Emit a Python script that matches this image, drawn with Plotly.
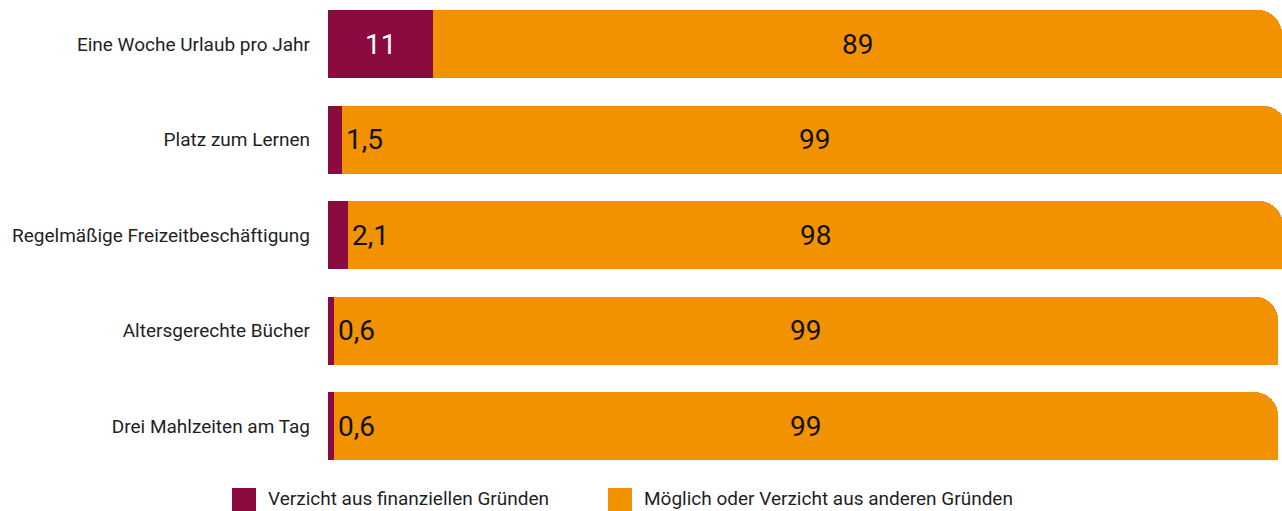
import plotly.graph_objects as go

# Anteil der Kinder (in %), die auf etwas verzichten
categories = [
    "Eine Woche Urlaub pro Jahr",
    "Platz zum Lernen",
    "Regelmäßige Freizeitbeschäftigung",
    "Altersgerechte Bücher",
    "Drei Mahlzeiten am Tag",
]
verzicht_finanziell = [11, 1.5, 2.1, 0.6, 0.6]
moeglich_anders = [89, 99, 98, 99, 99]
series_names = ["Verzicht aus finanziellen Gründen", "Möglich oder Verzicht aus anderen Gründen"]

RED = "#8A0B3F"
ORANGE = "#F29200"
TEXT = "#1f1f1f"
FONT = "Roboto"
VALUE_SIZE = 28

W, H = 1282, 511
M_L, M_R, M_T, M_B = 328, 0, 0, 37
PLOT_W = W - M_L - M_R
PLOT_H = H - M_T - M_B
ROW_PX = 95.5
BAR_W = 68 / ROW_PX


def fmt(v):
    return f"{v:g}".replace(".", ",")


def paper_x(px):
    return (px - M_L) / PLOT_W


def paper_y(py):
    return 1 - (py - M_T) / PLOT_H


fig = go.Figure()

# stacked bars; the end of each stack gets rounded corners
fig.add_trace(go.Bar(
    y=categories, x=verzicht_finanziell,
    orientation="h", width=BAR_W, marker=dict(color=RED, line=dict(width=0)),
    name=series_names[0], showlegend=False, hoverinfo="skip",
))
fig.add_trace(go.Bar(
    y=categories, x=moeglich_anders,
    orientation="h", width=BAR_W, marker=dict(color=ORANGE, line=dict(width=0)),
    name=series_names[1], showlegend=False, hoverinfo="skip",
))

# lower half of the orange segments on an overlaid axis keeps the bottom corner square
fig.add_trace(go.Bar(
    y=categories, x=moeglich_anders, base=verzicht_finanziell,
    orientation="h", width=BAR_W / 2, offset=0,
    marker=dict(color=ORANGE, line=dict(width=0), cornerradius=0),
    yaxis="y2", showlegend=False, hoverinfo="skip",
))

# value labels
for cat, r, o in zip(categories, verzicht_finanziell, moeglich_anders):
    if r >= 5:
        fig.add_annotation(x=r / 2, y=cat, text=fmt(r), showarrow=False,
                           xanchor="center", yanchor="middle",
                           font=dict(family=FONT, size=VALUE_SIZE, color="white"))
    else:
        fig.add_annotation(x=r, y=cat, text=fmt(r), showarrow=False,
                           xanchor="left", yanchor="middle", xshift=2,
                           font=dict(family=FONT, size=VALUE_SIZE, color="#111111"))
    fig.add_annotation(x=r + o / 2, y=cat, text=fmt(o), showarrow=False,
                       xanchor="center", yanchor="middle",
                       font=dict(family=FONT, size=VALUE_SIZE, color="#111111"))

# legend
legend_items = [(232, series_names[0], RED), (608, series_names[1], ORANGE)]
for x0, label, color in legend_items:
    fig.add_shape(type="rect", xref="paper", yref="paper",
                  x0=paper_x(x0), x1=paper_x(x0 + 24),
                  y0=paper_y(488), y1=paper_y(512),
                  fillcolor=color, line=dict(width=0), layer="above")
    fig.add_annotation(xref="paper", yref="paper", x=paper_x(x0 + 34), y=paper_y(499),
                       text=label, showarrow=False, xanchor="left", yanchor="middle",
                       font=dict(family=FONT, size=19, color=TEXT))

top = -44 / ROW_PX
y_range = [top + PLOT_H / ROW_PX, top]
fig.update_layout(
    width=W, height=H,
    margin=dict(l=M_L, r=M_R, t=M_T, b=M_B, pad=0),
    barmode="stack",
    barcornerradius=24,
    paper_bgcolor="white", plot_bgcolor="white",
    showlegend=False,
    xaxis=dict(range=[0, 100], visible=False, fixedrange=True),
    yaxis=dict(
        type="category", categoryorder="array", categoryarray=categories,
        range=y_range,
        showgrid=False, zeroline=False, showline=False, ticks="",
        ticklabelstandoff=17,
        tickfont=dict(family=FONT, size=19, color=TEXT),
        fixedrange=True,
    ),
    yaxis2=dict(
        type="category", categoryorder="array", categoryarray=categories,
        range=y_range, overlaying="y", visible=False, fixedrange=True,
    ),
)

fig.write_html("out.html", config={"displayModeBar": False})
